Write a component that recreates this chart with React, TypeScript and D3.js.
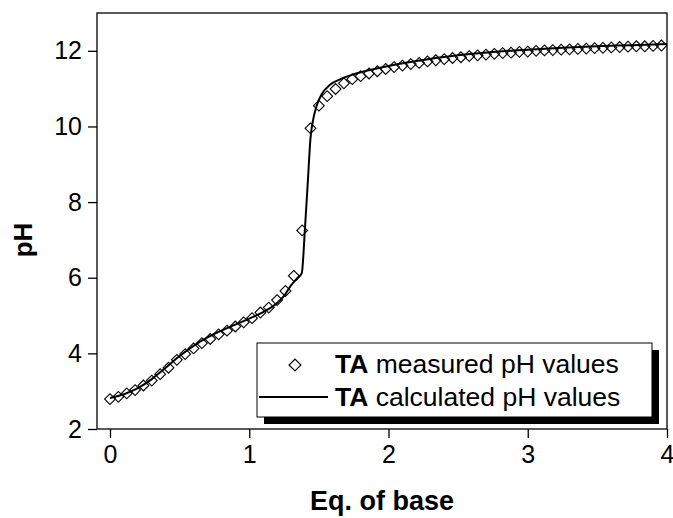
import React, { useEffect, useRef } from 'react';
import * as d3 from 'd3';

// measured titration points (diamonds)
const eqMeasured = [
  0, 0.06, 0.12, 0.18, 0.24, 0.3, 0.36, 0.42, 0.48, 0.54, 0.6, 0.66, 0.72, 0.78, 0.84, 0.9,
  0.96, 1.02, 1.08, 1.14, 1.2, 1.26, 1.32, 1.38, 1.44, 1.5, 1.56, 1.62, 1.68, 1.74, 1.8, 1.86,
  1.92, 1.98, 2.04, 2.1, 2.16, 2.22, 2.28, 2.34, 2.4, 2.46, 2.52, 2.58, 2.64, 2.7, 2.76, 2.82,
  2.88, 2.94, 3.0, 3.06, 3.12, 3.18, 3.24, 3.3, 3.36, 3.42, 3.48, 3.54, 3.6, 3.66, 3.72, 3.78,
  3.84, 3.9, 3.96,
];
const phMeasured = [
  2.79, 2.85, 2.94, 3.03, 3.15, 3.28, 3.45, 3.62, 3.83, 3.98, 4.13, 4.27, 4.38, 4.5, 4.6, 4.71,
  4.82, 4.93, 5.08, 5.21, 5.41, 5.65, 6.05, 7.25, 9.95, 10.55, 10.8, 10.99, 11.14, 11.25, 11.33, 11.4,
  11.46, 11.52, 11.57, 11.61, 11.65, 11.68, 11.72, 11.75, 11.78, 11.81, 11.83, 11.86, 11.88, 11.9, 11.92, 11.94,
  11.95, 11.97, 11.98, 12.0, 12.01, 12.02, 12.03, 12.04, 12.05, 12.06, 12.07, 12.08, 12.09, 12.1, 12.11, 12.12,
  12.12, 12.13, 12.14,
];

// calculated curve (solid line)
const eqCalc = [
  0, 0.1, 0.2, 0.3, 0.4, 0.5, 0.6, 0.7, 0.8, 0.9, 1.0, 1.1, 1.2, 1.25, 1.3, 1.35, 1.377,
  1.4, 1.42, 1.44, 1.46, 1.48, 1.52, 1.58, 1.66, 1.75, 1.9, 2.0, 2.25, 2.5, 2.75, 3.0, 3.25,
  3.5, 3.75, 4.0,
];
const phCalc = [
  2.82, 2.92, 3.08, 3.32, 3.62, 3.93, 4.2, 4.42, 4.6, 4.76, 4.92, 5.09, 5.33, 5.52, 5.8, 6.0, 6.12,
  7.3, 8.5, 9.7, 10.2, 10.5, 10.85, 11.1, 11.26, 11.38, 11.52, 11.6, 11.76, 11.88, 11.97, 12.03, 12.08,
  12.12, 12.15, 12.18,
];

const xTicks = [0, 1, 2, 3, 4];
const yTicks = [2, 4, 6, 8, 10, 12];
const legendItems = ['measured pH values', 'calculated pH values'];

const W = 673;
const H = 518;
const font = 'Arial, "Liberation Sans", Helvetica, sans-serif';

const App = () => {
  const svgRef = useRef<SVGSVGElement | null>(null);

  useEffect(() => {
    const svg = d3.select(svgRef.current);
    svg.selectAll('*').remove();

    const left = 97, right = 667, top = 13, bottom = 429;
    const x = d3.scaleLinear().domain([0, 4]).range([110, 667]);
    const y = d3.scaleLinear().domain([2, 13]).range([bottom, top]);

    // frame
    svg.append('rect')
      .attr('x', left).attr('y', top)
      .attr('width', right - left).attr('height', bottom - top)
      .attr('fill', 'none').attr('stroke', '#000').attr('stroke-width', 1.3);

    // x axis
    const gx = svg.append('g').attr('transform', `translate(0,${bottom})`);
    gx.call(d3.axisBottom(x).tickValues(d3.range(0, 4.01, 0.5)).tickSize(5).tickFormat(() => ''));
    gx.call(d3.axisBottom(x).tickValues(xTicks).tickSize(9).tickPadding(7).tickFormat(d3.format('d')));
    gx.selectAll('.domain').remove();
    gx.selectAll('line').attr('stroke-width', 1.3);
    gx.selectAll('text')
      .style('font-family', font).style('font-size', '25px').attr('fill', '#000');

    // y axis
    const gy = svg.append('g').attr('transform', `translate(${left},0)`);
    gy.call(d3.axisLeft(y).tickValues(d3.range(3, 12, 2)).tickSize(6).tickFormat(() => ''));
    gy.call(d3.axisLeft(y).tickValues(yTicks).tickSize(9).tickPadding(6).tickFormat(d3.format('d')));
    gy.selectAll('.domain').remove();
    gy.selectAll('line').attr('stroke-width', 1.3);
    gy.selectAll('text')
      .style('font-family', font).style('font-size', '25px').attr('fill', '#000');

    // axis titles
    svg.append('text')
      .attr('x', 382).attr('y', 510)
      .attr('text-anchor', 'middle')
      .style('font-family', font).style('font-size', '27px').style('font-weight', 'bold')
      .text('Eq. of base');
    svg.append('text')
      .attr('transform', 'translate(32,240) rotate(-90)')
      .attr('text-anchor', 'middle')
      .style('font-family', font).style('font-size', '26px').style('font-weight', 'bold')
      .text('pH');

    const diamond = d3.symbol().type(d3.symbolSquare).size(58)();

    // measured points
    svg.append('g')
      .selectAll('path')
      .data(eqMeasured.map((e, i) => [e, phMeasured[i]]))
      .enter()
      .append('path')
      .attr('d', diamond)
      .attr('transform', (d) => `translate(${x(d[0])},${y(d[1])}) rotate(45)`)
      .attr('fill', 'none')
      .attr('stroke', '#000')
      .attr('stroke-width', 1.1);

    // calculated curve
    const line = d3.line<number[]>()
      .x((d) => x(d[0]))
      .y((d) => y(d[1]))
      .curve(d3.curveMonotoneX);
    svg.append('path')
      .datum(eqCalc.map((e, i) => [e, phCalc[i]]))
      .attr('d', line)
      .attr('fill', 'none')
      .attr('stroke', '#000')
      .attr('stroke-width', 2);

    // legend with drop shadow
    const lg = svg.append('g');
    lg.append('rect').attr('x', 264).attr('y', 350).attr('width', 395).attr('height', 74).attr('fill', '#000');
    lg.append('rect').attr('x', 257).attr('y', 343).attr('width', 395).attr('height', 74)
      .attr('fill', '#fff').attr('stroke', '#000').attr('stroke-width', 1);
    lg.append('path')
      .attr('d', d3.symbol().type(d3.symbolSquare).size(70)())
      .attr('transform', 'translate(295,365) rotate(45)')
      .attr('fill', 'none').attr('stroke', '#000').attr('stroke-width', 1.2);
    lg.append('line').attr('x1', 259).attr('x2', 328).attr('y1', 397).attr('y2', 397)
      .attr('stroke', '#000').attr('stroke-width', 2);

    legendItems.forEach((label, i) => {
      const t = lg.append('text')
        .attr('x', 335).attr('y', 373 + i * 33)
        .style('font-family', font).style('font-size', '26.5px');
      t.append('tspan').style('font-weight', 'bold').text('TA');
      t.append('tspan').text(' ' + label);
    });
  }, []);

  return (
    <svg
      ref={svgRef}
      width={W}
      height={H}
      style={{ position: 'absolute', left: 0, top: 0, background: '#fff' }}
    />
  );
};

export default App;
